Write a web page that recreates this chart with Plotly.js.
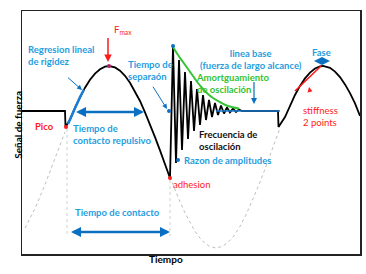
<!DOCTYPE html>
<html><head><meta charset="utf-8">
<script src="https://cdn.plot.ly/plotly-3.0.1.min.js"></script>
<style>html,body{margin:0;padding:0;background:#fff}</style>
</head><body><div id="chart" style="width:366px;height:274px"></div>
<script>
// Schematic force-vs-time signal (arbitrary units: time t, force f; baseline f = 0)
const curveT = [0,43,43.5,48,53,58,63,68,73,78,83,87,93,98,103,108,113,118,123,128,133,138,143,148,
  151,154,157,160,163,166,169,172,175,178,181,184,187,190,193,196,199,202,205,208,211,214,217,220,
  256,256.5,263,268,273,278,283,288,293,298,301,308,313,318,323,328,333,338];
const curveF = [0,0,-16,-8.5,3.3,14,23.3,31.2,37.4,41.8,44.4,45,43.6,40.3,35.2,28.3,19.8,10,-1.3,-13.3,-26.2,-39.4,-52.6,-67,
  65,-52,51,-39,39,-28,30,-20,22,-14,16,-9,11,-6,8,-4,5.5,-2.5,3.5,-1.5,2.5,-1,1.5,0,
  0,-16,-6,5.6,16,25.1,32.6,38.4,42.5,44.6,45,43.1,39.4,33.9,26.6,17.9,7.7,-5];

const freeT = [3,13,23,33,43,null,148,153,158,163,168,173,178,183,188,194,200,206,212,218,224,230,236,242,248,254,258];
const freeF = [-117,-97.5,-73.6,-47.4,-21,null,-66,-78.7,-90.8,-101.9,-111.8,-120.3,-127.1,-132.3,-135.6,-137,-135.5,-131.4,-124.8,-115.3,-103.9,-90.8,-76.1,-60.7,-44.7,-28.7,-17];

const guideT = [45,45,null,148,148];
const guideF = [-18,-125,null,-69,-125];

const envT = [151,156,161,166,171,176,181,186,191,198,206,217];
const envF = [64,56,49,42,35,28,22,17,13,9,5,2.5];

const slopeT = [46,50,54,58,62];
const slopeF = [-13,-3.5,5.5,14,21.5];

const baseT = [194,258];
const baseF = [0,0];

const stiffT = [273,299];
const stiffF = [20,45];

const redPtT = [44,148];
const redPtF = [-16,-67];
const maxPtT = [87];
const maxPtF = [45];
const bluePtT = [151,147,156];
const bluePtF = [65,0,-49];

const BLUE = '#0b6fc2', LBLUE = '#1f9ee0', RED = '#ff1a1a', GREEN = '#35c235';
const FONT = 'Lato, sans-serif';
const FS = 9.5;

const traces = [
  {x: freeT, y: freeF, mode: 'lines', line: {color: '#bdbdbd', width: 1, dash: 'dot'}, hoverinfo: 'skip'},
  {x: guideT, y: guideF, mode: 'lines', line: {color: '#d0d0d0', width: 1, dash: 'dot'}, hoverinfo: 'skip'},
  {x: curveT, y: curveF, mode: 'lines', line: {color: '#000', width: 1.8}},
  {x: envT, y: envF, mode: 'lines', line: {color: GREEN, width: 2, shape: 'spline'}},
  {x: slopeT, y: slopeF, mode: 'lines', line: {color: '#1a7fd4', width: 2.5}},
  {x: baseT, y: baseF, mode: 'lines', line: {color: '#1a7fd4', width: 1.6}},
  {x: stiffT, y: stiffF, mode: 'lines', line: {color: RED, width: 1.6}},
  {x: redPtT, y: redPtF, mode: 'markers', marker: {color: RED, size: 4}},
  {x: maxPtT, y: maxPtF, mode: 'markers', marker: {color: '#b0206a', size: 4}},
  {x: bluePtT, y: bluePtF, mode: 'markers', marker: {color: BLUE, size: 4}}
];

function txt(x, y, text, color, opts, bold) {
  return Object.assign({xref: 'x', yref: 'y', x: x, y: y, text: text, showarrow: false,
    xanchor: 'left', yanchor: 'middle', align: 'left',
    font: {family: FONT, size: FS, color: color, weight: bold === false ? 'normal' : 'bold'}}, opts || {});
}
function arr(x, y, ax, ay, color, w, both) {
  return {xref: 'x', yref: 'y', axref: 'x', ayref: 'y', x: x, y: y, ax: ax, ay: ay, text: ' ',
    showarrow: true, arrowcolor: color, arrowwidth: w, arrowhead: 2, arrowsize: both ? 0.8 : 1,
    startarrowhead: 2, startarrowsize: 0.8, arrowside: both ? 'end+start' : 'end'};
}

const annotations = [
  txt(4, 56, 'Regresion lineal<br>de rigidez', LBLUE),
  txt(90, 81, 'F<sub>max</sub>', RED, {}, false),
  txt(104, 41, 'Tiempo de<br>separaón', LBLUE),
  txt(229, 52, 'linea base<br>(fuerza de largo alcance)', LBLUE, {xanchor: 'center', align: 'center'}),
  txt(172, 27.5, 'Amortguamiento<br>de oscilación', GREEN),
  txt(175, -29.5, 'Frecuencia de<br>oscilación', '#111'),
  txt(160, -49, 'Razon de amplitudes', LBLUE),
  txt(149, -73, 'adhesion', RED, {}, false),
  txt(49, -23.5, 'Tiempo de<br>contacto repulsivo', LBLUE),
  txt(11, -15, 'Pico', RED),
  txt(95, -101, 'Tiempo de contacto', LBLUE, {xanchor: 'center'}),
  txt(299, 59, 'Fase', LBLUE, {xanchor: 'center'}),
  txt(279, -5, 'stiffness<br>2 points', RED, {}, false),
  arr(86, 49, 86, 83, RED, 1.5, false),
  arr(60, 21, 43, 36, BLUE, 1, false),
  arr(145, 2, 128, 29, BLUE, 1, false),
  arr(232, 7, 232, 39, BLUE, 1.2, false),
  arr(287, 24, 290, 10, RED, 1, false),
  arr(122, -1, 51, -1, BLUE, 2.5, true),
  arr(148, -121, 46, -121, BLUE, 2.5, true),
  arr(308, 50, 289, 50, BLUE, 2, true),
  {xref: 'paper', yref: 'paper', x: -0.036, y: 0.531, text: 'Señal de fuerza', textangle: -90,
    showarrow: false, font: {family: FONT, size: 10, color: '#000', weight: 'bold'}},
  {xref: 'paper', yref: 'paper', x: 0.426, y: -0.054, text: 'Tiempo',
    showarrow: false, font: {family: FONT, size: 10, color: '#000', weight: 'bold'}}
];

const layout = {
  width: 366, height: 274,
  margin: {l: 22, r: 6, t: 11, b: 20, pad: 0},
  paper_bgcolor: '#fff', plot_bgcolor: '#fff',
  showlegend: false,
  xaxis: {range: [0, 338], showgrid: false, zeroline: false, showticklabels: false, ticks: '',
    showline: true, mirror: true, linecolor: '#222', linewidth: 1.5},
  yaxis: {range: [-143, 100], showgrid: false, zeroline: false, showticklabels: false, ticks: '',
    showline: true, mirror: true, linecolor: '#222', linewidth: 1.5},
  annotations: annotations
};

Plotly.newPlot('chart', traces, layout, {staticPlot: true, displayModeBar: false});
</script>
</body></html>
